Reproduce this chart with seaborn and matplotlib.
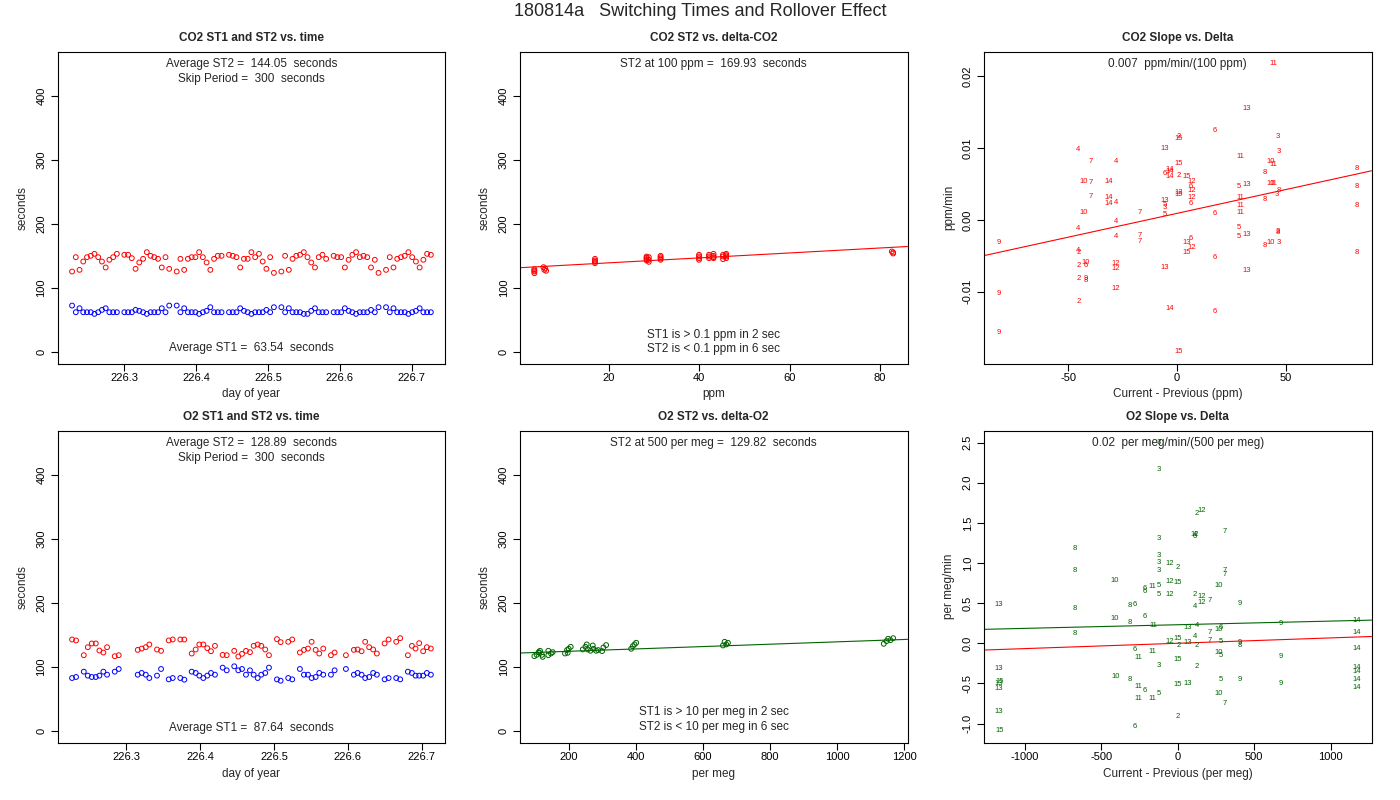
import numpy as np
import seaborn as sns
import matplotlib
matplotlib.use("Agg")
import matplotlib.pyplot as plt
from matplotlib.ticker import FormatStrFormatter

# ---- CO2: switching times vs. day of year
co2_day = [226.2271, 226.2323, 226.2375, 226.2427, 226.2479, 226.2531, 226.2583, 226.2635, 226.2687, 226.2739, 226.2791, 226.2843, 226.2895,
           226.2999, 226.3051, 226.3103, 226.3155, 226.3207, 226.3260, 226.3312, 226.3364, 226.3416, 226.3468, 226.3520, 226.3572, 226.3624,
           226.3728, 226.3780, 226.3832, 226.3884, 226.3936, 226.3988, 226.4040, 226.4092, 226.4144, 226.4196, 226.4248, 226.4300, 226.4352,
           226.4456, 226.4508, 226.4560, 226.4612, 226.4664, 226.4716, 226.4768, 226.4820, 226.4873, 226.4925, 226.4977, 226.5029, 226.5081,
           226.5185, 226.5237, 226.5289, 226.5341, 226.5393, 226.5445, 226.5497, 226.5549, 226.5601, 226.5653, 226.5705, 226.5757, 226.5809,
           226.5913, 226.5965, 226.6017, 226.6069, 226.6121, 226.6173, 226.6225, 226.6277, 226.6329, 226.6381, 226.6433, 226.6486, 226.6538,
           226.6642, 226.6694, 226.6746, 226.6798, 226.6850, 226.6902, 226.6954, 226.7006, 226.7058, 226.7110, 226.7162, 226.7214, 226.7266]
co2_st2 = [125.5, 147.9, 128.1, 141.1, 147.9, 150.0, 153.1, 147.9, 141.1, 131.8, 143.8, 147.9, 153.1,
           151.6, 151.6, 146.4, 129.7, 139.6, 145.3, 155.7, 150.0, 147.9, 145.3, 131.8, 147.9, 129.7,
           125.5, 145.3, 128.1, 145.3, 147.9, 147.9, 155.7, 147.9, 139.6, 128.1, 145.3, 150.0, 150.0,
           151.6, 150.0, 147.9, 131.8, 145.3, 145.3, 155.7, 147.9, 153.1, 141.1, 129.7, 147.9, 123.4,
           125.5, 150.0, 128.1, 145.3, 150.0, 151.6, 155.7, 147.9, 139.6, 131.8, 147.9, 151.6, 145.3,
           150.0, 147.9, 147.9, 131.8, 143.8, 151.6, 155.7, 147.9, 150.0, 147.9, 131.8, 143.8, 123.4,
           128.1, 147.9, 131.8, 145.3, 147.9, 150.0, 155.7, 147.9, 141.1, 131.8, 143.8, 153.1, 151.6]
co2_st1 = [72.4, 62.0, 68.2, 62.0, 62.0, 62.0, 59.4, 62.0, 65.6, 68.2, 62.0, 62.0, 62.0,
           62.0, 62.0, 62.0, 65.6, 64.1, 62.0, 59.4, 62.0, 62.0, 62.0, 68.2, 62.0, 72.4,
           72.4, 62.0, 68.2, 62.0, 62.0, 62.0, 59.4, 62.0, 64.1, 69.8, 62.0, 62.0, 62.0,
           62.0, 62.0, 62.0, 68.2, 64.1, 62.0, 59.4, 62.0, 62.0, 62.0, 65.6, 62.0, 69.8,
           69.8, 62.0, 68.2, 62.0, 62.0, 62.0, 59.4, 59.4, 64.1, 68.2, 62.0, 62.0, 62.0,
           62.0, 62.0, 62.0, 68.2, 64.1, 62.0, 59.4, 62.0, 62.0, 62.0, 65.6, 62.0, 69.8,
           69.8, 62.0, 68.2, 62.0, 62.0, 62.0, 59.4, 62.0, 64.1, 68.2, 62.0, 62.0, 62.0]

# ---- O2: switching times vs. day of year
o2_day = [226.2265, 226.2319, 226.2424, 226.2478, 226.2532, 226.2586, 226.2635, 226.2689, 226.2739, 226.2843, 226.2897,
          226.3154, 226.3208, 226.3263, 226.3311, 226.3415, 226.3470, 226.3574, 226.3628, 226.3731, 226.3785, 226.3885,
          226.3939, 226.3988, 226.4042, 226.4096, 226.4146, 226.4200, 226.4304, 226.4359, 226.4461, 226.4516, 226.4566,
          226.4620, 226.4674, 226.4724, 226.4778, 226.4827, 226.4881, 226.4931, 226.5039, 226.5089, 226.5192, 226.5246,
          226.5350, 226.5405, 226.5459, 226.5509, 226.5563, 226.5612, 226.5666, 226.5770, 226.5820, 226.5973, 226.6081,
          226.6131, 226.6185, 226.6234, 226.6288, 226.6342, 226.6392, 226.6497, 226.6551, 226.6654, 226.6708, 226.6812,
          226.6866, 226.6916, 226.6965, 226.7019, 226.7069, 226.7123]
o2_st2 = [142.7, 141.2, 118.2, 130.7, 136.5, 136.5, 125.5, 122.4, 130.7, 116.6, 118.2,
          126.5, 128.6, 130.7, 134.9, 127.1, 125.0, 141.2, 142.7, 142.7, 142.7, 120.8,
          127.1, 134.9, 134.9, 129.2, 124.4, 132.8, 118.7, 118.2, 125.0, 116.1, 120.3,
          125.0, 122.9, 132.8, 134.9, 132.8, 127.1, 118.2, 143.3, 138.6, 139.1, 142.7,
          122.4, 126.5, 128.6, 139.1, 126.5, 120.8, 128.6, 118.2, 122.4, 118.2, 126.5,
          127.1, 124.4, 139.1, 130.7, 127.1, 120.8, 136.5, 142.7, 139.1, 144.8, 118.2,
          132.8, 128.6, 137.0, 124.4, 130.7, 128.6]
o2_st1 = [82.6, 84.2, 92.5, 86.3, 84.2, 84.2, 86.3, 92.5, 87.8, 92.5, 96.7,
          87.8, 90.5, 87.8, 82.6, 86.3, 96.7, 80.5, 82.6, 82.6, 80.0, 92.5,
          90.5, 86.3, 82.6, 86.3, 90.5, 87.8, 98.8, 94.6, 100.9, 94.6, 96.7,
          87.8, 94.6, 87.8, 82.6, 87.8, 90.5, 98.8, 80.5, 78.4, 82.6, 80.5,
          96.7, 87.8, 87.8, 82.6, 84.2, 90.5, 87.8, 87.8, 94.6, 96.7, 87.8,
          90.5, 87.8, 82.6, 84.2, 90.5, 87.8, 80.5, 82.6, 82.6, 80.5, 92.5,
          90.5, 86.3, 86.3, 86.3, 90.5, 87.8]

# ---- ST2 vs. absolute delta
co2_dppm = [3.6, 3.6, 3.6, 3.6, 5.6, 6.0, 5.8, 6.2, 17.0, 17.0, 17.0, 17.0,
            28.4, 28.4, 28.4, 28.4, 28.9, 28.9, 28.9, 31.5, 31.5, 31.5, 31.5,
            40.0, 40.0, 40.0, 40.0, 42.2, 42.2, 42.2, 43.2, 43.2, 43.2, 43.2,
            45.3, 45.3, 45.3, 46.0, 46.0, 46.0, 46.0, 82.6, 82.9, 82.9]
co2_st2_d = [129.2, 127.1, 125.5, 122.9, 132.3, 130.2, 128.1, 126.6, 145.3, 142.7, 140.6, 138.5,
             148.9, 146.9, 144.8, 142.7, 147.9, 143.8, 140.6, 150.0, 147.9, 145.8, 143.8,
             151.6, 149.0, 146.4, 143.8, 151.6, 149.0, 146.4, 153.1, 150.0, 147.9, 146.4,
             151.6, 149.0, 144.8, 153.1, 151.0, 149.0, 146.4, 156.8, 155.2, 153.6]
o2_dpm = [97.6, 104.5, 112.5, 114.5, 120.4, 122.4, 110.5, 139.3, 139.3, 147.2, 152.2,
          189, 195, 197, 200, 206, 241.9, 249.9, 253.8, 256.8, 264.8, 271.7, 273.7, 281.7,
          287.7, 299.6, 303.6, 311.6, 386.2, 391.2, 396.2, 401.2, 659.9, 664.9, 669.8, 674.8,
          1139.5, 1147.5, 1152.5, 1159.5, 1167.4]
o2_st2_d = [116.7, 118.8, 121.9, 125.1, 118.8, 115.6, 123.0, 125.1, 118.3, 120.9, 123.0,
            120.9, 126.2, 122.0, 128.2, 131.3, 127.2, 131.3, 135.0, 127.2, 125.1, 133.4, 128.2, 125.1,
            126.2, 124.6, 130.3, 134.0, 128.2, 132.3, 135.0, 137.6, 133.4, 139.1, 135.0, 137.6,
            136.0, 140.2, 143.8, 141.7, 144.8]

# fitted lines (intercept, slope)
co2_st2_fit = (131.3, 0.3863)
o2_st2_fit = (120.6, 0.01844)
co2_slope_fit = (0.00092, 6.65e-5)
o2_slope_fit = (0.2316, 4.52e-5)

# ---- slope vs. delta, labelled by sample position
co2_lab = [11, 13, 6, 3, 2, 15, 13, 4, 3, 11, 7, 4, 10, 11, 15, 8, 14, 14, 8, 6,
           14, 2, 15, 12, 10, 7, 14, 5, 13, 10, 11, 8, 6, 12, 13, 15, 8, 3, 7, 14,
           14, 4, 13, 5, 3, 12, 6, 11, 8, 11, 8, 10, 7, 5, 6, 11, 4,
           4, 9, 4, 7, 7, 5, 5, 13, 3, 8, 3, 10, 8, 6, 13, 12, 15, 4, 2, 8,
           6, 2, 10, 6, 12, 12, 13, 13, 2, 9, 8, 12, 9, 2, 14, 6, 9, 15]
co2_dx = [44.0, 32.0, 17.4, 46.0, 0.6, 0.6, -5.8, -45.3, 46.6, 28.9, -39.6, -27.8, 42.8, 44.0, 0.6, 82.6, -3.5, -3.5, 40.4, -5.5,
          -3.5, 0.6, 4.3, 6.7, -42.7, -39.6, -31.3, 28.4, 32.0, 42.8, 44.0, 82.6, 6.3, 6.7, 0.6, 0.6, 46.6, 45.7, -39.6, -31.3,
          -31.3, -27.8, -5.8, -5.5, -5.5, 6.7, 6.3, 28.9, 40.4, 28.9, 82.6, -42.7, -17.0, -5.5, 17.4, 28.9, -27.8,
          -45.3, -82.0, -27.8, -17.0, -17.0, 28.4, 28.4, 32.0, 46.0, 46.0, 46.6, 42.8, 40.4, 6.3, 4.3, 6.7, 4.3, -45.3, -45.3, 82.6,
          17.4, -45.3, -41.9, -41.9, -28.1, -28.1, -5.8, 32.0, -45.3, -41.9, -41.9, -28.1, -82.0, -45.3, -3.5, 17.4, -82.0, 0.6]
co2_dy = [0.0218, 0.0156, 0.0124, 0.0117, 0.0117, 0.0113, 0.0100, 0.0098, 0.0095, 0.0088, 0.0082, 0.0082, 0.0082, 0.0077, 0.0079,
          0.0072, 0.0071, 0.0068, 0.0066, 0.0065, 0.0061, 0.0062, 0.0061, 0.0054, 0.0054, 0.0052, 0.0054, 0.0047, 0.0049, 0.0051,
          0.0051, 0.0047, 0.0047, 0.0041, 0.0038, 0.0036, 0.0041, 0.0036, 0.0033, 0.0031, 0.0023, 0.0025, 0.0027, 0.0021, 0.0017,
          0.0031, 0.0023, 0.0031, 0.0028, 0.0020, 0.0020, 0.0010, 0.0010, 0.0008, 0.0009, 0.0011, -0.0002,
          -0.0012, -0.0031, -0.0023, -0.0022, -0.0030, -0.0010, -0.0023, -0.0020, -0.0016, -0.0017, -0.0031, -0.0032, -0.0036,
          -0.0026, -0.0032, -0.0039, -0.0045, -0.0042, -0.0045, -0.0045, -0.0052, -0.0063, -0.0060, -0.0063, -0.0061, -0.0068,
          -0.0066, -0.0070, -0.0082, -0.0081, -0.0085, -0.0096, -0.0102, -0.0114, -0.0124, -0.0128, -0.0157, -0.0184]

o2_lab = [3, 3, 2, 12, 4, 12, 6, 7, 3, 8,
          3, 3, 12, 2, 8, 3, 7, 7, 10, 12,
          15, 10, 6, 6, 11, 5, 5, 12, 2, 12,
          7, 12, 4, 9, 13, 8, 6, 8, 10, 6,
          8, 11, 13, 4, 7, 10, 6, 9, 14, 8,
          14, 4, 15, 12, 13, 7, 5, 9, 8, 2,
          2, 6, 14, 11, 10, 5, 11, 15, 9, 3,
          2, 13, 14, 14, 10, 8, 5, 9, 14, 15,
          13, 13, 9, 15, 13, 11, 14, 6, 5, 10,
          11, 11, 7, 13, 2, 6, 15]
o2_dx = [-122.5, -122.5, 124, 157, 113, 113, 113, 309.8, -122.5, -677,
         -122.5, -122.5, -54.8, 0, -677, -122.5, 309.8, 309.8, -410.6, -54.8,
         0, 266, -214, -214, -164, -122.5, -122.5, -54.8, 113, 157,
         211.5, 157, 113, 408, -1174.6, -312, -279.6, -677, -410.6, -214,
         -312, -160, 63, 124, 211.5, 266, 281, 676.5, 1174, -677,
         1174, 113, 0, -54.8, 63, 211.5, 281, 408, 408, 4.4,
         124, -279.6, 1174, -164, 266, 281, -257.8, 0, 676.5, -122.5,
         124, -1174.6, 1174, 1174, -404, -312, 281, 408, 1174, -1164,
         -1174.6, -1174.6, 676.5, 0, 63, -257.8, 1174, -214, -122.5, 266,
         -257.8, -164, 309.8, -1174.6, 0, -279.6, -1164]
o2_dy = [2.50, 2.165, 1.62, 1.648, 1.36, 1.35, 1.33, 1.396, 1.30, 1.186,
         1.095, 1.012, 1.00, 0.938, 0.909, 0.91, 0.905, 0.851, 0.785, 0.770,
         0.753, 0.714, 0.681, 0.64, 0.71, 0.719, 0.611, 0.607, 0.603, 0.586,
         0.537, 0.508, 0.462, 0.499, 0.483, 0.466, 0.483, 0.429, 0.31, 0.338,
         0.256, 0.223, 0.199, 0.223, 0.132, 0.168, 0.192, 0.248, 0.281, 0.124,
         0.133, 0.082, 0.057, 0.02, 0.0075, 0.041, 0.025, 0.008, -0.033, -0.033,
         -0.03, -0.071, -0.07, -0.104, -0.12, -0.152, -0.178, -0.199, -0.162, -0.273,
         -0.289, -0.314, -0.30, -0.356, -0.414, -0.447, -0.447, -0.447, -0.455, -0.476,
         -0.505, -0.558, -0.496, -0.508, -0.496, -0.538, -0.546, -0.589, -0.62, -0.62,
         -0.682, -0.682, -0.744, -0.843, -0.914, -1.03, -1.091]

GREEN = "#006400"

sns.set_style("ticks")
plt.rcParams["font.family"] = ["Liberation Sans", "DejaVu Sans"]
plt.rcParams["axes.unicode_minus"] = False

W, H = 1400, 800
fig = plt.figure(figsize=(14, 8), dpi=100)
col_left = [57.7, 520.0, 984.0]
row_top = [52.0, 431.0]
pw, ph = 387.5, 311.5


def rpad(lo, hi, f=0.04):
    d = (hi - lo) * f
    return lo - d, hi + d


def panel(r, c):
    return fig.add_axes([col_left[c] / W, 1 - (row_top[r] + ph) / H, pw / W, ph / H])


def rings(ax, x, y, color):
    sns.scatterplot(x=x, y=y, ax=ax, s=12, color=color, linewidth=0.7, legend=False)
    coll = ax.collections[-1]
    coll.set_facecolor("none")
    coll.set_edgecolor(color)


def fitline(ax, fit, color):
    xs = np.array(ax.get_xlim())
    sns.lineplot(x=xs, y=fit[0] + fit[1] * xs, ax=ax, color=color, linewidth=0.8)


def dress(ax, title, xlabel, ylabel):
    ax.set_title(title, fontsize=8.5, fontweight="bold", y=1 + 14 / ph, va="center", pad=0)
    ax.set_xlabel(xlabel, fontsize=8.5, va="center")
    ax.xaxis.set_label_coords(0.5, -31 / ph)
    ax.set_ylabel(ylabel, fontsize=8.5, va="center")
    ax.yaxis.set_label_coords(-35 / pw, 0.5)
    ax.tick_params(direction="out", length=5, width=0.8, labelsize=8, colors="black")
    ax.tick_params(axis="x", pad=1.5)
    ax.tick_params(axis="y", pad=3, labelrotation=90)
    plt.setp(ax.get_yticklabels(), va="center")
    for s in ax.spines.values():
        s.set_visible(True)
        s.set_linewidth(0.8)
        s.set_color("black")


def note(ax, y, s):
    ax.text(0.5, y, s, transform=ax.transAxes, ha="center", va="center", fontsize=8.5)


sec_lim = rpad(0, 450)
sec_ticks = [0, 100, 200, 300, 400]
day_ticks = [226.3, 226.4, 226.5, 226.6, 226.7]

# CO2 vs time
ax = panel(0, 0)
rings(ax, co2_day, co2_st2, "red")
rings(ax, co2_day, co2_st1, "blue")
ax.set_xlim(*rpad(min(co2_day), max(co2_day)))
ax.set_ylim(*sec_lim)
ax.set_xticks(day_ticks)
ax.set_yticks(sec_ticks)
ax.xaxis.set_major_formatter(FormatStrFormatter("%.1f"))
dress(ax, "CO2 ST1 and ST2 vs. time", "day of year", "seconds")
note(ax, 0.9615, "Average ST2 =  144.05  seconds")
note(ax, 0.9135, "Skip Period =  300  seconds")
note(ax, 0.0513, "Average ST1 =  63.54  seconds")

# CO2 ST2 vs delta
ax = panel(0, 1)
rings(ax, co2_dppm, co2_st2_d, "red")
ax.set_xlim(*rpad(min(co2_dppm), max(co2_dppm)))
ax.set_ylim(*sec_lim)
fitline(ax, co2_st2_fit, "red")
ax.set_xticks([20, 40, 60, 80])
ax.set_yticks(sec_ticks)
dress(ax, "CO2 ST2 vs. delta-CO2", "ppm", "seconds")
note(ax, 0.9615, "ST2 at 100 ppm =  169.93  seconds")
note(ax, 0.093, "ST1 is > 0.1 ppm in 2 sec")
note(ax, 0.048, "ST2 is < 0.1 ppm in 6 sec")

# CO2 slope vs delta
ax = panel(0, 2)
ax.set_xlim(*rpad(min(co2_dx), max(co2_dx)))
ax.set_ylim(*rpad(min(co2_dy), max(co2_dy)))
for lab, x, y in zip(co2_lab, co2_dx, co2_dy):
    ax.text(x, y, str(lab), ha="center", va="center", fontsize=5.5, color="red")
fitline(ax, co2_slope_fit, "red")
ax.set_xticks([-50, 0, 50])
ax.set_yticks([-0.01, 0.0, 0.01, 0.02])
ax.yaxis.set_major_formatter(FormatStrFormatter("%.2f"))
dress(ax, "CO2 Slope vs. Delta", "Current - Previous (ppm)", "ppm/min")
note(ax, 0.9615, "0.007  ppm/min/(100 ppm)")

# O2 vs time
ax = panel(1, 0)
rings(ax, o2_day, o2_st2, "red")
rings(ax, o2_day, o2_st1, "blue")
ax.set_xlim(*rpad(min(o2_day), max(o2_day)))
ax.set_ylim(*sec_lim)
ax.set_xticks(day_ticks)
ax.set_yticks(sec_ticks)
ax.xaxis.set_major_formatter(FormatStrFormatter("%.1f"))
dress(ax, "O2 ST1 and ST2 vs. time", "day of year", "seconds")
note(ax, 0.9615, "Average ST2 =  128.89  seconds")
note(ax, 0.9133, "Skip Period =  300  seconds")
note(ax, 0.0475, "Average ST1 =  87.64  seconds")

# O2 ST2 vs delta
ax = panel(1, 1)
rings(ax, o2_dpm, o2_st2_d, GREEN)
ax.set_xlim(*rpad(min(o2_dpm), max(o2_dpm)))
ax.set_ylim(*sec_lim)
fitline(ax, o2_st2_fit, GREEN)
ax.set_xticks([200, 400, 600, 800, 1000, 1200])
ax.set_yticks(sec_ticks)
dress(ax, "O2 ST2 vs. delta-O2", "per meg", "seconds")
note(ax, 0.9615, "ST2 at 500 per meg =  129.82  seconds")
note(ax, 0.097, "ST1 is > 10 per meg in 2 sec")
note(ax, 0.0488, "ST2 is < 10 per meg in 6 sec")

# O2 slope vs delta
ax = panel(1, 2)
ax.set_xlim(*rpad(min(o2_dx), max(o2_dx)))
ax.set_ylim(*rpad(min(o2_dy), max(o2_dy)))
for lab, x, y in zip(o2_lab, o2_dx, o2_dy):
    ax.text(x, y, str(lab), ha="center", va="center", fontsize=5.5, color=GREEN)
fitline(ax, o2_slope_fit, GREEN)
fitline(ax, co2_slope_fit, "red")
ax.set_xticks([-1000, -500, 0, 500, 1000])
ax.set_yticks([-1.0, -0.5, 0.0, 0.5, 1.0, 1.5, 2.0, 2.5])
ax.yaxis.set_major_formatter(FormatStrFormatter("%.1f"))
dress(ax, "O2 Slope vs. Delta", "Current - Previous (per meg)", "per meg/min")
note(ax, 0.9615, "0.02  per meg/min/(500 per meg)")

fig.text(0.5, 1 - 11 / H, "180814a   Switching Times and Rollover Effect",
         ha="center", va="center", fontsize=13)

fig.savefig("out.png", dpi=100)
